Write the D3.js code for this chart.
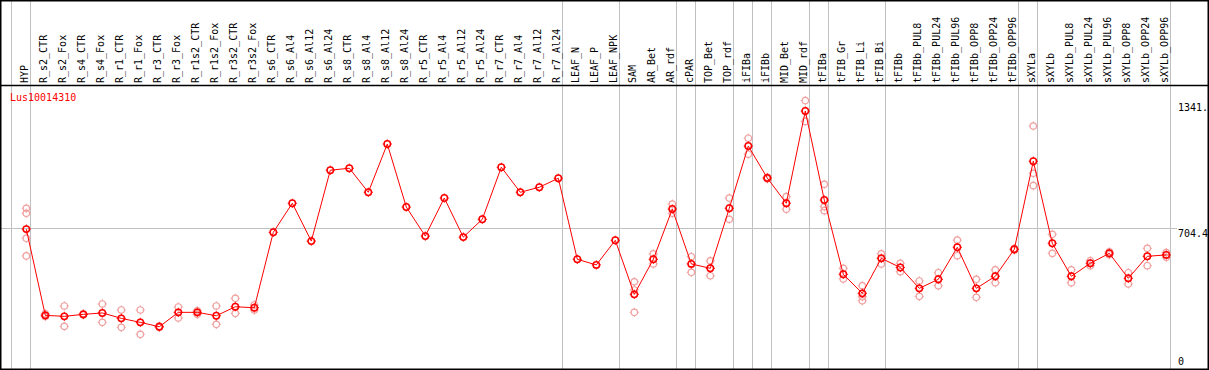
<!DOCTYPE html>
<html><head><meta charset="utf-8">
<script src="https://cdn.jsdelivr.net/npm/d3@7"></script>
<style>body{margin:0;background:#fff;}svg{display:block;}text{font-family:"DejaVu Sans Mono",monospace;font-size:10px;}</style>
</head><body><svg id="c" width="1209" height="370"></svg>
<script>
const categories = ["HYP","R_s2_CTR","R_s2_Fox","R_s4_CTR","R_s4_Fox","R_r1_CTR","R_r1_Fox","R_r3_CTR","R_r3_Fox","R_r1s2_CTR","R_r1s2_Fox","R_r3s2_CTR","R_r3s2_Fox","R_s6_CTR","R_s6_Al4","R_s6_Al12","R_s6_Al24","R_s8_CTR","R_s8_Al4","R_s8_Al12","R_s8_Al24","R_r5_CTR","R_r5_Al4","R_r5_Al12","R_r5_Al24","R_r7_CTR","R_r7_Al4","R_r7_Al12","R_r7_Al24","LEAF_N","LEAF_P","LEAF_NPK","SAM","AR_Bet","AR_rdf","cPAR","TOP_Bet","TOP_rdf","iFIBa","iFIBb","MID_Bet","MID_rdf","tFIBa","tFIB_Gr","tFIB_Li","tFIB_Bi","tFIBb","tFIBb_PUL8","tFIBb_PUL24","tFIBb_PUL96","tFIBb_OPP8","tFIBb_OPP24","tFIBb_OPP96","sXYLa","sXYLb","sXYLb_PUL8","sXYLb_PUL24","sXYLb_PUL96","sXYLb_OPP8","sXYLb_OPP24","sXYLb_OPP96"];
const means = [699,268,263,273,280,253,233,211,283,283,266,311,306,683,828,639,993,1003,883,1124,809,664,854,659,748,1008,883,908,953,548,520,643,373,548,799,525,503,803,1114,954,828,1289,844,473,378,553,507,403,448,608,403,463,598,1038,628,463,528,578,453,563,570];
const replicates = [[803,778,653,565],[276,262],[315,213],[270,276],[325,233],[295,208],[295,173],[208,214],[310,255],[291,273],[315,223],[353,278],[320,295],[],[],[],[],[],[],[],[],[],[],[],[],[],[],[],[],[],[],[],[436,395,283],[575,525],[824,778],[561,483],[540,466],[854,748],[1153,1073],[950,958],[861,798],[1341,1237],[923,811,791],[503,450],[416,361,341],[575,525],[528,486],[440,363],[481,416],[644,566],[448,358],[495,431],[594,602],[1214,978,916],[673,578],[495,431],[541,516],[585,571],[481,425],[603,516],[582,558]];
const groupEnds = ["HYP","R_r7_Al24","LEAF_NPK","AR_rdf","cPAR","TOP_rdf","iFIBa","iFIBb","MID_rdf","tFIBa","tFIB_Bi","tFIBb_OPP96","sXYLa","sXYLb_OPP96"];
const yTickLabels = ["1341.","704.4","0"];
const yTickValues = [1341, 704.4, 0];
const title = "Lus10014310";

const svg = d3.select("#c");
const x = d3.scalePoint().domain(categories).range([26.3, 1166.3]);
const y = d3.scaleLinear().domain([0, 1408.8]).range([369, 87]);
const gray = "#c0c0c0", pink = "#f0a0a0", red = "#ff0000";

// vertical grid lines
svg.append("line").attr("x1",11.5).attr("x2",11.5).attr("y1",0).attr("y2",370).attr("stroke",gray);
svg.selectAll("line.g").data(groupEnds).enter().append("line").attr("class","g")
  .attr("x1",d=>Math.round(x(d)+4)+0.5).attr("x2",d=>Math.round(x(d)+4)+0.5)
  .attr("y1",0).attr("y2",370).attr("stroke",gray);
// horizontal mid line
svg.append("line").attr("x1",0).attr("x2",1177).attr("y1",Math.round(y(704.4))+0.5).attr("y2",Math.round(y(704.4))+0.5).attr("stroke",gray);

// frame
svg.append("rect").attr("x",0.75).attr("y",0.75).attr("width",1207.5).attr("height",368.5).attr("fill","none").attr("stroke","#000").attr("stroke-width",1.5);
svg.append("line").attr("x1",0).attr("x2",1209).attr("y1",85.5).attr("y2",85.5).attr("stroke","#000").attr("stroke-width",1.5);

// column labels
svg.selectAll("text.cat").data(categories).enter().append("text").attr("class","cat")
  .attr("transform",d=>`translate(${x(d)+1.5},83) rotate(-90)`)
  .attr("fill","#000").text(d=>d);

// title
svg.append("text").attr("x",10).attr("y",101).attr("fill",red).text(title);

// y labels
svg.selectAll("text.yl").data(yTickLabels).enter().append("text").attr("class","yl")
  .attr("x",1178).attr("y",(d,i)=>[111,237,365][i]).attr("fill","#000").text(d=>d);

function marker(g, cx, cy, color, sw){
  g.append("circle").attr("cx",cx).attr("cy",cy).attr("r",3.2).attr("fill","none").attr("stroke",color).attr("stroke-width",sw);
  const t = 4.6;
  g.append("path").attr("d",`M${cx},${cy-t}V${cy-3}M${cx},${cy+3}V${cy+t}M${cx-t},${cy}H${cx-3}M${cx+3},${cy}H${cx+t}`).attr("stroke",color).attr("stroke-width",1);
}

// replicates
const rg = svg.append("g");
categories.forEach((c,i)=>{
  replicates[i].forEach(v=>marker(rg, x(c), y(v), pink, 1.2));
});
// mean line
svg.append("path").datum(means).attr("fill","none").attr("stroke",red).attr("stroke-width",1)
  .attr("d", d3.line().x((d,i)=>x(categories[i])).y(d=>y(d)));
const mg = svg.append("g");
categories.forEach((c,i)=>marker(mg, x(c), y(means[i]), red, 1.5));
</script></body></html>
